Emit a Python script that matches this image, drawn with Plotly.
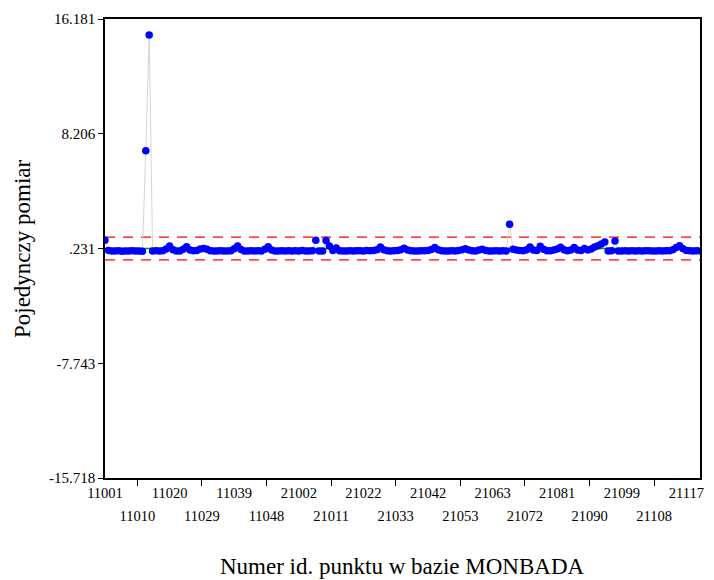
import plotly.graph_objects as go

# ---- data ----
values = [
    0.80, 0.10, 0.06, 0.05, 0.07, 0.04, 0.06, 0.05, 0.07, 0.05,   # 0-9
    0.06, 0.04, 7.03, 15.07, 0.05, 0.07, 0.06, 0.08, 0.20, 0.41,  # 10-19
    0.15, 0.06, 0.05, 0.18, 0.36, 0.12, 0.07, 0.10, 0.20, 0.24,   # 20-29
    0.18, 0.08, 0.06, 0.05, 0.07, 0.06, 0.05, 0.08, 0.22, 0.40,   # 30-39
    0.16, 0.06, 0.05, 0.07, 0.06, 0.08, 0.05, 0.18, 0.36, 0.12,   # 40-49
    0.06, 0.05, 0.07, 0.06, 0.08, 0.05, 0.07, 0.06, 0.09, 0.06,   # 50-59
    0.05, 0.07, 0.81, 0.06, 0.05, 0.78, 0.40, 0.10, 0.26, 0.08,   # 60-69
    0.06, 0.05, 0.07, 0.06, 0.08, 0.07, 0.05, 0.09, 0.08, 0.10,   # 70-79
    0.15, 0.33, 0.15, 0.08, 0.06, 0.07, 0.10, 0.14, 0.25, 0.12,   # 80-89
    0.07, 0.05, 0.06, 0.08, 0.07, 0.10, 0.16, 0.30, 0.15, 0.08,   # 90-99
    0.06, 0.05, 0.07, 0.06, 0.10, 0.14, 0.22, 0.12, 0.07, 0.06,   # 100-109
    0.12, 0.18, 0.10, 0.06, 0.05, 0.07, 0.06, 0.08, 0.06, 1.91,   # 110-119
    0.18, 0.12, 0.10, 0.08, 0.15, 0.34, 0.12, 0.10, 0.39, 0.18,   # 120-129
    0.08, 0.07, 0.12, 0.20, 0.32, 0.14, 0.07, 0.12, 0.30, 0.12,   # 130-139
    0.10, 0.24, 0.12, 0.20, 0.33, 0.42, 0.55, 0.68, 0.06, 0.07,   # 140-149
    0.75, 0.06, 0.05, 0.07, 0.06, 0.08, 0.05, 0.07, 0.06, 0.08,   # 150-159
    0.07, 0.06, 0.05, 0.07, 0.06, 0.08, 0.07, 0.15, 0.30, 0.42,   # 160-169
    0.22, 0.10, 0.07, 0.06, 0.08, 0.06,                           # 170-175
]
tick_labels = ["11001", "11010", "11020", "11029", "11039", "11048", "21002",
               "21011", "21022", "21033", "21042", "21053", "21063", "21072",
               "21081", "21090", "21099", "21108", "21117"]
center_value = 0.231
upper_limit = 1.02
lower_limit = -0.56
y_tick_vals = [-15.718, -7.743, 0.231, 8.206, 16.181]
y_tick_text = ["-15.718", "-7.743", ".231", "8.206", "16.181"]

# ---- figure ----
n = len(values)
xs = list(range(n))
step = 9.5
tick_pos = [k * step for k in range(len(tick_labels))]
row1_pos = tick_pos[0::2]
row1_txt = tick_labels[0::2]
row2_pos = tick_pos[1::2]
row2_txt = tick_labels[1::2]

FONT = "Liberation Serif"
fig = go.Figure()
fig.add_trace(go.Scatter(
    x=xs, y=values, mode="lines+markers",
    line=dict(color="#d6d6d6", width=1),
    marker=dict(color="#0000ff", size=7.5, line=dict(width=0)),
    showlegend=False, hoverinfo="x+y"))
fig.add_trace(go.Scatter(x=[0], y=[center_value], xaxis="x2", mode="markers",
                         marker=dict(opacity=0), showlegend=False, hoverinfo="skip"))

for val, col, dash in [(center_value, "#00a000", "solid"),
                       (upper_limit, "#ff0000", "10px,8px"),
                       (lower_limit, "#ff0000", "10px,8px")]:
    fig.add_shape(type="line", xref="x", yref="y", x0=0, x1=n - 1, y0=val, y1=val,
                  line=dict(color=col, width=1.3, dash=dash), layer="below")

fig.update_layout(
    width=714, height=580,
    margin=dict(l=105, r=10, t=19, b=102),
    paper_bgcolor="white", plot_bgcolor="white",
    font=dict(family=FONT, size=14.5, color="black"),
    xaxis=dict(range=[0, n - 1], tickmode="array", tickvals=row2_pos, ticktext=row2_txt,
               ticks="outside", ticklen=6, tickcolor="black", tickwidth=1,
               showline=True, mirror=True, linecolor="black", linewidth=1.5,
               showgrid=False, zeroline=False, ticklabelstandoff=18),
    xaxis2=dict(range=[0, n - 1], overlaying="x", anchor="y", side="bottom",
                tickmode="array", tickvals=row1_pos, ticktext=row1_txt,
                ticks="", showline=False, showgrid=False, zeroline=False,
                ticklabelstandoff=4),
    yaxis=dict(range=[-15.718, 16.181], tickmode="array", tickvals=y_tick_vals,
               ticktext=y_tick_text, ticks="outside", ticklen=5, tickcolor="black",
               showline=True, mirror=True, linecolor="black", linewidth=1.5,
               showgrid=False, zeroline=False, tickfont=dict(size=15)),
    annotations=[
        dict(text="Numer id. punktu w bazie MONBADA", xref="paper", yref="paper",
             x=0.5, y=-(566 - 478) / 459, xanchor="center", yanchor="middle",
             showarrow=False, font=dict(family=FONT, size=23)),
        dict(text="Pojedynczy pomiar", xref="paper", yref="paper",
             x=(22 - 105) / 599, y=0.5, xanchor="center", yanchor="middle",
             textangle=-90, showarrow=False, font=dict(family=FONT, size=23)),
    ],
)
fig.write_html("out.html")
